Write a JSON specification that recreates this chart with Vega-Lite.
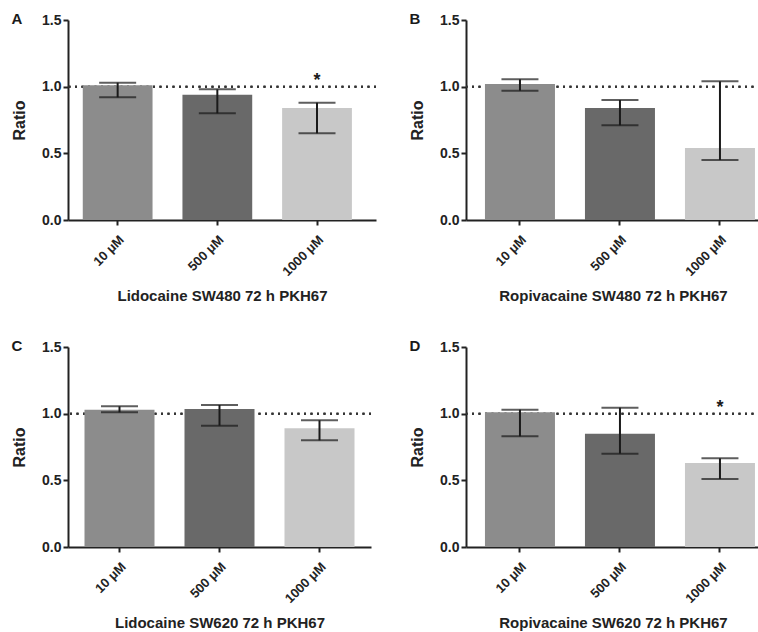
{
  "$schema": "https://vega.github.io/schema/vega-lite/v6.json",
  "background": "white",
  "padding": {"left": 11, "top": 12, "right": 0, "bottom": 0},
  "datasets": {
    "bars": [
      {"panel": "A", "dose": "10 μM", "ratio": 1.01, "lo": 0.92, "hi": 1.03, "star": false},
      {"panel": "A", "dose": "500 μM", "ratio": 0.94, "lo": 0.80, "hi": 0.98, "star": false},
      {"panel": "A", "dose": "1000 μM", "ratio": 0.84, "lo": 0.65, "hi": 0.88, "star": true},
      {"panel": "B", "dose": "10 μM", "ratio": 1.02, "lo": 0.97, "hi": 1.055, "star": false},
      {"panel": "B", "dose": "500 μM", "ratio": 0.84, "lo": 0.71, "hi": 0.90, "star": false},
      {"panel": "B", "dose": "1000 μM", "ratio": 0.54, "lo": 0.45, "hi": 1.04, "star": false},
      {"panel": "C", "dose": "10 μM", "ratio": 1.03, "lo": 1.01, "hi": 1.055, "star": false},
      {"panel": "C", "dose": "500 μM", "ratio": 1.035, "lo": 0.91, "hi": 1.065, "star": false},
      {"panel": "C", "dose": "1000 μM", "ratio": 0.89, "lo": 0.80, "hi": 0.95, "star": false},
      {"panel": "D", "dose": "10 μM", "ratio": 1.01, "lo": 0.83, "hi": 1.03, "star": false},
      {"panel": "D", "dose": "500 μM", "ratio": 0.85, "lo": 0.70, "hi": 1.045, "star": false},
      {"panel": "D", "dose": "1000 μM", "ratio": 0.63, "lo": 0.51, "hi": 0.665, "star": true}
    ]
  },
  "data": {"name": "bars"},
  "columns": 2,
  "align": "each",
  "spacing": {"column": 32, "row": 35},
  "concat": [
    {
      "width": 308, "height": 200,
      "title": {"text": "A", "anchor": "start", "frame": "bounds", "fontSize": 15, "fontWeight": "bold", "baseline": "middle", "offset": -7, "dy": 14},
      "transform": [{"filter": "datum.panel == 'A'"}],
      "encoding": {
        "x": {"field": "dose", "type": "nominal", "sort": ["10 μM", "500 μM", "1000 μM"],
              "scale": {"paddingInner": 0.3, "paddingOuter": 0.195, "align": 0.38},
              "axis": {"title": "Lidocaine SW480 72 h PKH67"}}
      },
      "layer": [
        {"mark": {"type": "rule", "strokeDash": [2, 4.5], "strokeWidth": 2, "color": "#333"}, "encoding": {"x": null, "y": {"datum": 1, "type": "quantitative", "scale": {"domain": [0, 1.5], "nice": false}}}},
        {"mark": {"type": "bar"}, "encoding": {
          "y": {"field": "ratio", "type": "quantitative", "scale": {"domain": [0, 1.5], "nice": false}, "axis": {"title": "Ratio", "values": [0, 0.5, 1, 1.5], "format": ".1f"}},
          "color": {"field": "dose", "type": "nominal", "scale": {"domain": ["10 μM", "500 μM", "1000 μM"], "range": ["#8c8c8c", "#696969", "#c8c8c8"]}, "legend": null}}},
        {"mark": {"type": "rule", "strokeWidth": 2, "color": "#1a1a1a"}, "encoding": {"y": {"field": "lo", "type": "quantitative"}, "y2": {"field": "hi"}}},
        {"mark": {"type": "tick", "size": 37, "thickness": 2, "color": "#1a1a1a", "orient": "horizontal"}, "encoding": {"y": {"field": "lo", "type": "quantitative"}}},
        {"mark": {"type": "tick", "size": 37, "thickness": 2, "color": "#1a1a1a", "orient": "horizontal"}, "encoding": {"y": {"field": "hi", "type": "quantitative"}}},
        {"transform": [{"filter": "datum.star"}], "mark": {"type": "text", "text": "*", "fontSize": 18, "fontWeight": "bold", "baseline": "middle", "color": "#1a1a1a"}, "encoding": {"y": {"datum": 1.04, "type": "quantitative"}}}
      ]
    },
    {
      "width": 294, "height": 200,
      "title": {"text": "B", "anchor": "start", "frame": "bounds", "fontSize": 15, "fontWeight": "bold", "baseline": "middle", "offset": -7, "dy": 14},
      "transform": [{"filter": "datum.panel == 'B'"}],
      "encoding": {
        "x": {"field": "dose", "type": "nominal", "sort": ["10 μM", "500 μM", "1000 μM"],
              "scale": {"paddingInner": 0.3, "paddingOuter": 0.12, "align": 0.79},
              "axis": {"title": "Ropivacaine SW480 72 h PKH67"}}
      },
      "layer": [
        {"mark": {"type": "rule", "strokeDash": [2, 4.5], "strokeWidth": 2, "color": "#333"}, "encoding": {"x": null, "y": {"datum": 1, "type": "quantitative", "scale": {"domain": [0, 1.5], "nice": false}}}},
        {"mark": {"type": "bar"}, "encoding": {
          "y": {"field": "ratio", "type": "quantitative", "scale": {"domain": [0, 1.5], "nice": false}, "axis": {"title": "Ratio", "values": [0, 0.5, 1, 1.5], "format": ".1f"}},
          "color": {"field": "dose", "type": "nominal", "scale": {"domain": ["10 μM", "500 μM", "1000 μM"], "range": ["#8c8c8c", "#696969", "#c8c8c8"]}, "legend": null}}},
        {"mark": {"type": "rule", "strokeWidth": 2, "color": "#1a1a1a"}, "encoding": {"y": {"field": "lo", "type": "quantitative"}, "y2": {"field": "hi"}}},
        {"mark": {"type": "tick", "size": 37, "thickness": 2, "color": "#1a1a1a", "orient": "horizontal"}, "encoding": {"y": {"field": "lo", "type": "quantitative"}}},
        {"mark": {"type": "tick", "size": 37, "thickness": 2, "color": "#1a1a1a", "orient": "horizontal"}, "encoding": {"y": {"field": "hi", "type": "quantitative"}}}
      ]
    },
    {
      "width": 303, "height": 200,
      "title": {"text": "C", "anchor": "start", "frame": "bounds", "fontSize": 15, "fontWeight": "bold", "baseline": "middle", "offset": -7, "dy": 14},
      "transform": [{"filter": "datum.panel == 'C'"}],
      "encoding": {
        "x": {"field": "dose", "type": "nominal", "sort": ["10 μM", "500 μM", "1000 μM"],
              "scale": {"paddingInner": 0.3, "paddingOuter": 0.165, "align": 0.5},
              "axis": {"title": "Lidocaine SW620 72 h PKH67"}}
      },
      "layer": [
        {"mark": {"type": "rule", "strokeDash": [2, 4.5], "strokeWidth": 2, "color": "#333"}, "encoding": {"x": null, "y": {"datum": 1, "type": "quantitative", "scale": {"domain": [0, 1.5], "nice": false}}}},
        {"mark": {"type": "bar"}, "encoding": {
          "y": {"field": "ratio", "type": "quantitative", "scale": {"domain": [0, 1.5], "nice": false}, "axis": {"title": "Ratio", "values": [0, 0.5, 1, 1.5], "format": ".1f"}},
          "color": {"field": "dose", "type": "nominal", "scale": {"domain": ["10 μM", "500 μM", "1000 μM"], "range": ["#8c8c8c", "#696969", "#c8c8c8"]}, "legend": null}}},
        {"mark": {"type": "rule", "strokeWidth": 2, "color": "#1a1a1a"}, "encoding": {"y": {"field": "lo", "type": "quantitative"}, "y2": {"field": "hi"}}},
        {"mark": {"type": "tick", "size": 37, "thickness": 2, "color": "#1a1a1a", "orient": "horizontal"}, "encoding": {"y": {"field": "lo", "type": "quantitative"}}},
        {"mark": {"type": "tick", "size": 37, "thickness": 2, "color": "#1a1a1a", "orient": "horizontal"}, "encoding": {"y": {"field": "hi", "type": "quantitative"}}}
      ]
    },
    {
      "width": 294, "height": 200,
      "title": {"text": "D", "anchor": "start", "frame": "bounds", "fontSize": 15, "fontWeight": "bold", "baseline": "middle", "offset": -7, "dy": 14},
      "transform": [{"filter": "datum.panel == 'D'"}],
      "encoding": {
        "x": {"field": "dose", "type": "nominal", "sort": ["10 μM", "500 μM", "1000 μM"],
              "scale": {"paddingInner": 0.3, "paddingOuter": 0.12, "align": 0.79},
              "axis": {"title": "Ropivacaine SW620 72 h PKH67"}}
      },
      "layer": [
        {"mark": {"type": "rule", "strokeDash": [2, 4.5], "strokeWidth": 2, "color": "#333"}, "encoding": {"x": null, "y": {"datum": 1, "type": "quantitative", "scale": {"domain": [0, 1.5], "nice": false}}}},
        {"mark": {"type": "bar"}, "encoding": {
          "y": {"field": "ratio", "type": "quantitative", "scale": {"domain": [0, 1.5], "nice": false}, "axis": {"title": "Ratio", "values": [0, 0.5, 1, 1.5], "format": ".1f"}},
          "color": {"field": "dose", "type": "nominal", "scale": {"domain": ["10 μM", "500 μM", "1000 μM"], "range": ["#8c8c8c", "#696969", "#c8c8c8"]}, "legend": null}}},
        {"mark": {"type": "rule", "strokeWidth": 2, "color": "#1a1a1a"}, "encoding": {"y": {"field": "lo", "type": "quantitative"}, "y2": {"field": "hi"}}},
        {"mark": {"type": "tick", "size": 37, "thickness": 2, "color": "#1a1a1a", "orient": "horizontal"}, "encoding": {"y": {"field": "lo", "type": "quantitative"}}},
        {"mark": {"type": "tick", "size": 37, "thickness": 2, "color": "#1a1a1a", "orient": "horizontal"}, "encoding": {"y": {"field": "hi", "type": "quantitative"}}},
        {"transform": [{"filter": "datum.star"}], "mark": {"type": "text", "text": "*", "fontSize": 18, "fontWeight": "bold", "baseline": "middle", "color": "#1a1a1a"}, "encoding": {"y": {"datum": 1.04, "type": "quantitative"}}}
      ]
    }
  ],
  "config": {
    "view": {"stroke": null},
    "font": "Liberation Sans",
    "title": {"color": "#1a1a1a", "font": "Liberation Sans"},
    "axis": {
      "grid": false,
      "domainColor": "#222", "domainWidth": 2,
      "tickColor": "#222", "tickWidth": 2, "tickSize": 5,
      "labelFont": "Liberation Sans", "labelFontWeight": "bold", "labelFontSize": 14, "labelColor": "#222",
      "titleFont": "Liberation Sans", "titleFontWeight": "bold", "titleFontSize": 15, "titleColor": "#222"
    },
    "axisX": {"labelAngle": -45, "labelFontSize": 13, "titlePadding": 10, "labelPadding": 8},
    "axisY": {"titlePadding": 14, "titleFontSize": 16, "labelPadding": 2}
  }
}
